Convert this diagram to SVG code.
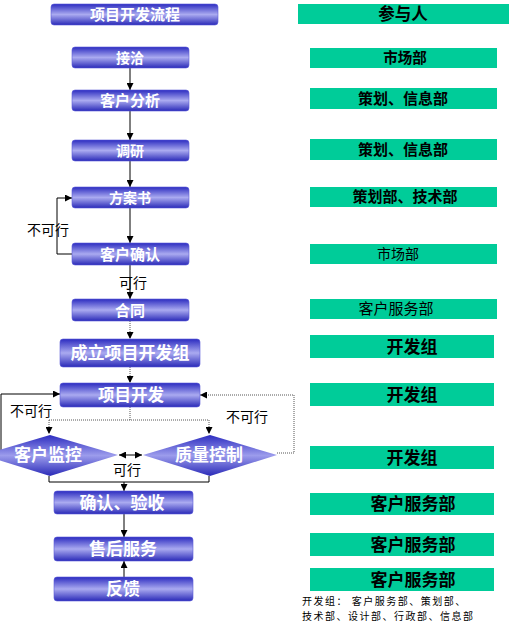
<svg xmlns="http://www.w3.org/2000/svg" width="520" height="631" viewBox="0 0 520 631">
<style>
.bx{fill:url(#bg);stroke:#5a5ad8;stroke-width:0.6}
.dm{fill:url(#dg)}
.wt{font-family:"Noto Sans CJK SC",sans-serif;font-weight:bold;fill:#fff;text-anchor:middle}
.gr{fill:#00cc99}
.gt{font-family:"Noto Sans CJK SC",sans-serif;fill:#000;text-anchor:middle}
.lb{font-family:"Noto Sans CJK SC",sans-serif;fill:#000;text-anchor:middle;font-size:14px}
.cn{fill:none;stroke:#000;stroke-width:1}
.cd{fill:none;stroke:#555;stroke-width:1;stroke-dasharray:1 1}
.ft{font-family:"Noto Sans CJK SC",sans-serif;fill:#000;font-size:10px;letter-spacing:1.5px}
</style>
<defs>
<linearGradient id="bg" x1="0" y1="0" x2="0" y2="1">
<stop offset="0" stop-color="#2c2cc0"/>
<stop offset="0.5" stop-color="#aaaaf0"/>
<stop offset="1" stop-color="#2a2ab8"/>
</linearGradient>
<linearGradient id="dg" x1="0" y1="0" x2="0" y2="1">
<stop offset="0" stop-color="#2c2cc0"/>
<stop offset="0.5" stop-color="#9c9cec"/>
<stop offset="1" stop-color="#2a2ab8"/>
</linearGradient>
<marker id="ah" markerWidth="7" markerHeight="7" refX="7" refY="3.5" orient="auto-start-reverse" markerUnits="userSpaceOnUse">
<path d="M0,0 L7,3.5 L0,7 z" fill="#000"/>
</marker>
</defs>

<g id="connectors">
<path class="cn" d="M130,68 V90" marker-end="url(#ah)"/>
<path class="cn" d="M130,111 V140" marker-end="url(#ah)"/>
<path class="cn" d="M130,161 V187" marker-end="url(#ah)"/>
<path class="cn" d="M130,208 V243" marker-end="url(#ah)"/>
<path class="cn" d="M130,265 V299" marker-end="url(#ah)"/>
<path class="cn" d="M72,254 H57 V198 H72" marker-end="url(#ah)"/>
<path class="cd" d="M130,321 V339" marker-end="url(#ah)"/>
<path class="cd" d="M130,367 V383" marker-end="url(#ah)"/>
<path class="cd" d="M130,407 V420 M49,420 H209"/>
<path class="cd" d="M49,420 V434" marker-end="url(#ah)"/>
<path class="cd" d="M209,420 V434" marker-end="url(#ah)"/>
<path class="cn" d="M1,455 V394 H60" marker-end="url(#ah)"/>
<path class="cd" d="M277,453 H294 V395 H200" marker-end="url(#ah)"/>
<path class="cn" d="M119,455 H142" marker-start="url(#ah)" marker-end="url(#ah)"/>
<path class="cn" d="M49,476 V482 H209 V476"/>
<path class="cn" d="M124,482 V491" marker-end="url(#ah)"/>
<path class="cn" d="M124,514 V537" marker-end="url(#ah)"/>
<path class="cn" d="M124,577 V561" marker-end="url(#ah)"/>
<text class="lb" x="133" y="288">可行</text>
<text class="lb" x="48" y="235">不可行</text>
<text class="lb" x="31" y="416">不可行</text>
<text class="lb" x="247" y="422">不可行</text>
<text class="lb" x="127" y="475">可行</text>
</g>

<g id="n-title"><rect class="bx" x="51" y="4" width="167" height="21" rx="3"/><text class="wt" x="135" y="20" font-size="15">项目开发流程</text></g>
<g id="n-jieqia"><rect class="bx" x="72" y="47" width="117" height="21" rx="3"/><text class="wt" x="130" y="63" font-size="14">接洽</text></g>
<g id="n-fenxi"><rect class="bx" x="72" y="90" width="117" height="21" rx="3"/><text class="wt" x="130" y="106" font-size="15">客户分析</text></g>
<g id="n-diaoyan"><rect class="bx" x="72" y="140" width="117" height="21" rx="3"/><text class="wt" x="130" y="156" font-size="14">调研</text></g>
<g id="n-fangan"><rect class="bx" x="72" y="187" width="117" height="21" rx="3"/><text class="wt" x="130" y="203" font-size="14">方案书</text></g>
<g id="n-queren"><rect class="bx" x="72" y="243" width="117" height="22" rx="3"/><text class="wt" x="130" y="260" font-size="15">客户确认</text></g>
<g id="n-hetong"><rect class="bx" x="72" y="299" width="117" height="22" rx="3"/><text class="wt" x="130" y="316" font-size="15">合同</text></g>
<g id="n-chengli"><rect class="bx" x="60" y="339" width="140" height="28" rx="3"/><text class="wt" x="130" y="359" font-size="17">成立项目开发组</text></g>
<g id="n-kaifa"><rect class="bx" x="60" y="383" width="140" height="24" rx="3"/><text class="wt" x="131" y="401" font-size="16.5">项目开发</text></g>
<g id="n-jiankong"><polygon class="dm" points="50,435 118,455 50,476 -18,455"/><text class="wt" x="48" y="461" font-size="17">客户监控</text></g>
<g id="n-zhiliang"><polygon class="dm" points="210,435 277,455 210,476 143,455"/><text class="wt" x="209" y="461" font-size="17">质量控制</text></g>
<g id="n-yanshou"><rect class="bx" x="54" y="491" width="139" height="23" rx="3"/><text class="wt" x="122" y="509" font-size="17">确认、验收</text></g>
<g id="n-shouhou"><rect class="bx" x="54" y="537" width="139" height="24" rx="3"/><text class="wt" x="123" y="555" font-size="17">售后服务</text></g>
<g id="n-fankui"><rect class="bx" x="54" y="577" width="139" height="24" rx="3"/><text class="wt" x="123" y="595" font-size="17">反馈</text></g>

<g id="r-canyu"><rect class="gr" x="298" y="4" width="211" height="20"/><text class="gt" x="403" y="20" font-size="16.5" font-weight="bold">参与人</text></g>
<g id="r-1"><rect class="gr" x="310" y="48" width="187" height="20"/><text class="gt" x="405" y="63" font-size="14.5" font-weight="bold">市场部</text></g>
<g id="r-2"><rect class="gr" x="310" y="88" width="187" height="21" /><text class="gt" x="403" y="104" font-size="15" font-weight="bold">策划、信息部</text></g>
<g id="r-3"><rect class="gr" x="310" y="139" width="187" height="21"/><text class="gt" x="403" y="155" font-size="15" font-weight="bold">策划、信息部</text></g>
<g id="r-4"><rect class="gr" x="310" y="187" width="187" height="20"/><text class="gt" x="405" y="202" font-size="15" font-weight="bold">策划部、技术部</text></g>
<g id="r-5"><rect class="gr" x="310" y="244" width="187" height="20"/><text class="gt" x="398" y="259" font-size="14">市场部</text></g>
<g id="r-6"><rect class="gr" x="310" y="299" width="187" height="20"/><text class="gt" x="396" y="314" font-size="15">客户服务部</text></g>
<g id="r-7"><rect class="gr" x="310" y="335" width="184" height="23"/><text class="gt" x="412" y="353" font-size="17" font-weight="bold">开发组</text></g>
<g id="r-8"><rect class="gr" x="310" y="383" width="184" height="23"/><text class="gt" x="412" y="401" font-size="17" font-weight="bold">开发组</text></g>
<g id="r-9"><rect class="gr" x="310" y="446" width="184" height="23"/><text class="gt" x="412" y="464" font-size="17" font-weight="bold">开发组</text></g>
<g id="r-10"><rect class="gr" x="310" y="493" width="184" height="22"/><text class="gt" x="413" y="510" font-size="17" font-weight="bold">客户服务部</text></g>
<g id="r-11"><rect class="gr" x="310" y="533" width="184" height="23"/><text class="gt" x="413" y="551" font-size="17" font-weight="bold">客户服务部</text></g>
<g id="r-12"><rect class="gr" x="310" y="568" width="184" height="23"/><text class="gt" x="413" y="586" font-size="17" font-weight="bold">客户服务部</text></g>
<g id="note"><text class="ft" x="302" y="605">开发组： 客户服务部、策划部、</text><text class="ft" x="302" y="620">技术部、设计部、行政部、信息部</text></g>
</svg>
